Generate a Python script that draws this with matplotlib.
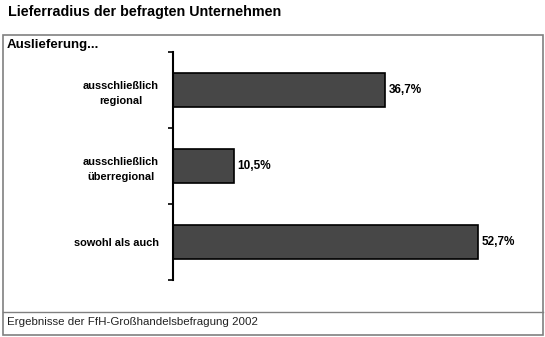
import matplotlib
matplotlib.use("Agg")
import matplotlib.pyplot as plt
from matplotlib.patches import Rectangle
from matplotlib.lines import Line2D

plt.rcParams['font.family'] = ['Liberation Sans', 'DejaVu Sans']

categories = ["ausschließlich\nregional", "ausschließlich\nüberregional", "sowohl als auch"]
values = [36.7, 10.5, 52.7]
value_labels = ["36,7%", "10,5%", "52,7%"]

W, H = 545, 337
fig = plt.figure(figsize=(W / 100, H / 100), dpi=100)

# frame around chart and footer
fig.add_artist(Rectangle((3 / W, 1 - 335 / H), 540 / W, 300 / H, transform=fig.transFigure,
                         fill=False, edgecolor="#808080", linewidth=1.2))
fig.add_artist(Line2D([3 / W, 543 / W], [1 - 312 / H] * 2, transform=fig.transFigure,
                      color="#808080", linewidth=1.0))

fig.text(8 / W, 1 - 12 / H, "Lieferradius der befragten Unternehmen", fontsize=10.3,
         fontweight="bold", va="center", ha="left")
fig.text(7 / W, 1 - 45 / H, "Auslieferung...", fontsize=9.5, fontweight="bold",
         va="center", ha="left")
fig.text(7 / W, 1 - 322 / H, "Ergebnisse der FfH-Großhandelsbefragung 2002", fontsize=8.25,
         va="center", ha="left", color="#222222")

ax = fig.add_axes([173 / W, 1 - 280 / H, (540 - 173) / W, 228 / H])
pos = list(range(len(categories)))
ax.barh(pos, values, height=0.46, color="#474747", edgecolor="black", linewidth=1.2)
ax.set_ylim(2.5, -0.5)
ax.set_xlim(0, 63.4)
ax.set_yticks([p - 0.5 for p in pos] + [pos[-1] + 0.5])
ax.set_yticklabels([])
ax.set_yticks(pos, minor=True)
ax.set_yticklabels(categories, minor=True, fontsize=7.9, fontweight="bold",
                   multialignment="center", linespacing=1.6)
ax.tick_params(axis="y", which="major", length=3.5, width=1.2, direction="out")
ax.tick_params(axis="y", which="minor", length=0, pad=10)
ax.set_xticks([])
for s in ["top", "right", "bottom"]:
    ax.spines[s].set_visible(False)
ax.spines["left"].set_linewidth(1.5)

for p, v, lab in zip(pos, values, value_labels):
    ax.text(v + 0.6, p, lab, va="center", ha="left", fontsize=8.5, fontweight="bold")

fig.savefig("out.png", dpi=100)
